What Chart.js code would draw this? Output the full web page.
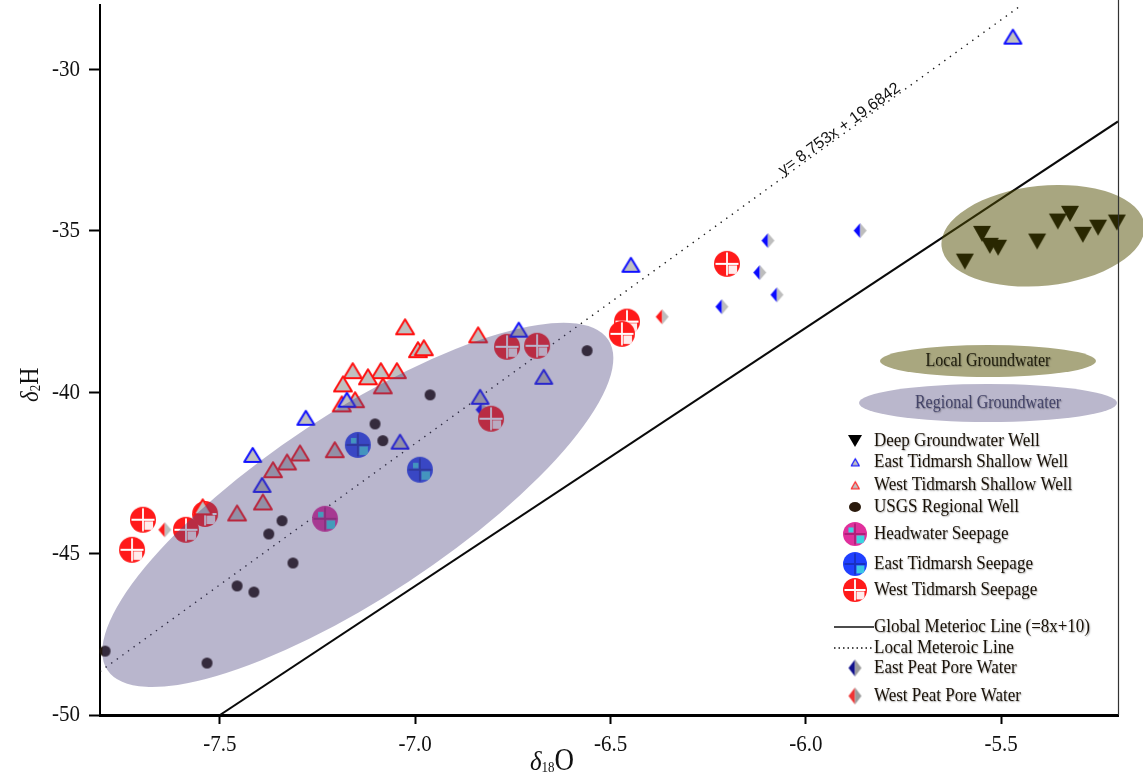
<!DOCTYPE html>
<html>
<head>
<meta charset="utf-8">
<script src="https://cdn.jsdelivr.net/npm/chart.js@4.4.1/dist/chart.umd.min.js"></script>
<style>
  html, body { margin: 0; padding: 0; background: #fff; }
  #wrap { width: 1143px; height: 778px; }
</style>
</head>
<body>
<div id="wrap"><canvas id="c" width="1143" height="778"></canvas></div>
<script>
// ---- isotope data: δ18O (x) and δ2H (y), per mil ----
const deepWellX = [-5.593, -5.549, -5.529, -5.508, -5.408, -5.355, -5.324, -5.291, -5.252, -5.204];
const deepWellY = [-35.95, -35.09, -35.46, -35.52, -35.33, -34.71, -34.47, -35.12, -34.90, -34.74];

const eastShallowX = [-5.470, -6.448, -6.735, -6.671, -6.834, -7.039, -7.280, -7.416, -7.392, -7.175];
const eastShallowY = [-28.98, -36.05, -38.06, -39.52, -40.14, -41.53, -40.79, -41.94, -42.87, -40.23];

const westShallowX = [-7.026, -6.839, -6.993, -6.978, -7.160, -7.088, -7.047, -7.121, -7.185, -7.083,
                      -7.154, -7.188, -7.206, -7.295, -7.328, -7.364, -7.390, -7.456, -7.544];
const westShallowY = [-37.97, -38.22, -38.68, -38.62, -39.33, -39.33, -39.33, -39.52, -39.74, -39.80,
                      -40.23, -40.36, -41.78, -41.88, -42.16, -42.40, -43.40, -43.74, -43.55];

const usgsX = [-6.560, -6.962, -7.103, -7.083, -7.341, -7.375, -7.313, -7.456, -7.413, -7.794, -7.533];
const usgsY = [-38.71, -40.08, -40.98, -41.50, -43.98, -44.39, -45.29, -46.00, -46.19, -48.02, -48.39];

const headwaterX = [-7.231];
const headwaterY = [-43.92];

const eastSeepX = [-7.147, -6.988];
const eastSeepY = [-41.63, -42.40];

const westSeepX = [-6.202, -6.458, -6.471, -6.765, -6.688, -6.806, -7.697, -7.725, -7.587, -7.538];
const westSeepY = [-36.02, -37.81, -38.19, -38.59, -38.56, -40.82, -43.95, -44.88, -44.26, -43.77];

const eastPeatX = [-6.097, -5.861, -6.118, -6.074, -6.215, -6.829];
const eastPeatY = [-35.30, -34.99, -36.29, -36.98, -37.35, -40.54];

const westPeatX = [-6.368, -7.641];
const westPeatY = [-37.66, -44.26];

// meteoric water lines: slope, intercept and the δ18O span they are drawn over
const globalLine = { slope: 8, intercept: 10 };
const globalLineSpan = [-7.5, -5.201];
const localLine = { slope: 8.753, intercept: 19.6842 };
const localLineSpan = [-7.807, -5.448];

const xTickValues = [-7.5, -7.0, -6.5, -6.0, -5.5];
const yTickValues = [-50, -45, -40, -35, -30];

const seriesNames = [
  'Deep Groundwater Well', 'East Tidmarsh Shallow Well', 'West Tidmarsh Shallow Well',
  'USGS Regional Well', 'Headwater Seepage', 'East Tidmarsh Seepage', 'West Tidmarsh Seepage',
  'Global Meterioc Line (=8x+10)', 'Local Meteroic Line', 'East Peat Pore Water', 'West Peat Pore Water'
];
const equationText = 'y= 8.753x + 19.6842';

// ---- drawing helpers ----
const SERIF = '"Liberation Serif", "Times New Roman", serif';
const SANS = '"Liberation Sans", Arial, sans-serif';

function makeCanvas(w, h, draw) {
  const c = document.createElement('canvas');
  c.width = w; c.height = h;
  draw(c.getContext('2d'), w, h);
  return c;
}

function triangleIcon(w, h, fill, stroke, lw, down) {
  const m = stroke ? lw + 1 : 1;
  return makeCanvas(w + 2 * m, h + 2 * m, (g, W, H) => {
    g.beginPath();
    if (down) { g.moveTo(m, m); g.lineTo(W - m, m); g.lineTo(W / 2, H - m); }
    else { g.moveTo(W / 2, m); g.lineTo(W - m, H - m); g.lineTo(m, H - m); }
    g.closePath();
    g.fillStyle = fill; g.fill();
    if (stroke) { g.lineJoin = 'round'; g.lineWidth = lw; g.strokeStyle = stroke; g.stroke(); }
  });
}

function dotIcon(r, color) {
  const s = Math.ceil(2 * r + 2);
  return makeCanvas(s, s, (g, W) => {
    g.beginPath(); g.arc(W / 2, W / 2, r, 0, Math.PI * 2); g.fillStyle = color; g.fill();
  });
}

function seepIcon(r, base, cross, quad, quadTL) {
  const s = 2 * r + 2;
  return makeCanvas(s, s, (g, W) => {
    const c = W / 2;
    g.save();
    g.beginPath(); g.arc(c, c, r, 0, Math.PI * 2); g.fillStyle = base; g.fill(); g.clip();
    g.fillStyle = quad;
    g.fillRect(c + 1.5, c + 1.5, r * 0.66, r * 0.66);
    if (quadTL) g.fillRect(c - 1.5 - r * 0.42, c - 1.5 - r * 0.42, r * 0.42, r * 0.42);
    g.restore();
    g.strokeStyle = cross; g.lineWidth = 1.8;
    g.beginPath();
    g.moveTo(c - r + 1.5, c); g.lineTo(c + r - 1.5, c);
    g.moveTo(c, c - r + 1.5); g.lineTo(c, c + r - 1.5);
    g.stroke();
  });
}

function diamondIcon(w, h, left, right) {
  return makeCanvas(w + 2, h + 2, (g, W, H) => {
    const cx = W / 2, cy = H / 2;
    g.beginPath(); g.moveTo(cx, 1); g.lineTo(cx, H - 1); g.lineTo(1, cy); g.closePath();
    g.fillStyle = left; g.fill();
    g.beginPath(); g.moveTo(cx, 1); g.lineTo(W - 1, cy); g.lineTo(cx, H - 1); g.closePath();
    g.fillStyle = right; g.fill();
  });
}

function lineIcon(dashed) {
  return makeCanvas(40, 6, (g, W, H) => {
    g.strokeStyle = '#111'; g.lineWidth = dashed ? 1.3 : 1.6;
    if (dashed) g.setLineDash([1.5, 3]);
    g.beginPath(); g.moveTo(0, H / 2); g.lineTo(W, H / 2); g.stroke();
  });
}

// plotted symbols
const icons = {
  deep: triangleIcon(18, 16, '#000', null, 0, true),
  eastShallow: triangleIcon(17, 14, '#c0c0c0', '#1010ff', 2, false),
  westShallow: triangleIcon(18, 15, '#c0c0c0', '#ff1010', 2, false),
  usgs: dotIcon(5.5, '#24180f'),
  headwater: seepIcon(13, '#e0309c', '#b01f7a', '#3cd4e0', true),
  eastSeep: seepIcon(13, '#2a46f0', '#1b2fb0', '#3cc6e6', true),
  westSeep: seepIcon(13, '#ff1a1a', '#ffffff', 'rgba(255,255,255,0.92)', false),
  eastPeat: diamondIcon(13, 15, '#0a0aff', '#bdbdbd'),
  westPeat: diamondIcon(13, 15, '#ff1a1a', '#bdbdbd')
};

// legend symbols
const legendIcons = [
  triangleIcon(14, 12, '#000', null, 0, true),
  triangleIcon(8, 7, '#c0c0c0', '#2020ff', 1.3, false),
  triangleIcon(8, 7, '#c0c0c0', '#ff3030', 1.3, false),
  makeCanvas(14, 12, (g) => { g.beginPath(); g.ellipse(7, 6, 6, 5, 0, 0, Math.PI * 2); g.fillStyle = '#2a1a0c'; g.fill(); }),
  seepIcon(12, '#e0309c', '#b01f7a', '#3cd4e0', true),
  seepIcon(12, '#2040ff', '#1830c0', '#3cc6e6', false),
  seepIcon(12, '#ff1a1a', '#ffffff', 'rgba(255,255,255,0.92)', false),
  lineIcon(false),
  lineIcon(true),
  diamondIcon(13, 17, '#10108c', '#9a9a9a'),
  diamondIcon(13, 17, '#f03434', '#9a9a9a')
];

// annotation layout (data-space centres, pixel radii)
const groundwaterZones = [
  { center: [-7.147, -43.49], rx: 300, ry: 92, angleDeg: -33.4, fill: 'rgba(80,72,130,0.40)' },
  { center: [-5.393, -35.15], rx: 102, ry: 50, angleDeg: -6, fill: 'rgba(81,77,1,0.50)' }
];
const legendLayout = {
  iconX: 855, lineX0: 834, textX: 874,
  rows: [441, 462, 485, 507, 534, 564, 590, 627, 648, 668, 696],
  zoneKeys: [
    { text: 'Local Groundwater', cx: 988, cy: 361, rx: 108, ry: 16, fill: '#a9a77f', color: '#1e1c0c' },
    { text: 'Regional Groundwater', cx: 988, cy: 403, rx: 129, ry: 19, fill: '#bab7cc', color: '#45456a' }
  ]
};
const TEXT_STRETCH = 1.13;

function stretchedText(ctx, str, x, y, font, color, align, sy, shadow) {
  ctx.save();
  ctx.translate(x, y);
  ctx.scale(1, sy);
  ctx.font = font;
  ctx.fillStyle = color;
  ctx.textAlign = align;
  ctx.textBaseline = 'middle';
  if (shadow) {
    ctx.shadowColor = 'rgba(0,0,0,0.35)';
    ctx.shadowBlur = 1.5;
    ctx.shadowOffsetX = 0.8;
    ctx.shadowOffsetY = 0.8;
  }
  ctx.fillText(str, 0, 0);
  ctx.restore();
}

const pts = (xs, ys) => xs.map((v, i) => ({ x: v, y: ys[i] }));
const linePts = (ln, span) => span.map(v => ({ x: v, y: ln.slope * v + ln.intercept }));

const markerSet = (label, xs, ys, icon) => ({
  label, data: pts(xs, ys), pointStyle: icon, pointRadius: 9, showLine: false, clip: false
});

const datasets = [
  markerSet(seriesNames[0], deepWellX, deepWellY, icons.deep),
  markerSet(seriesNames[1], eastShallowX, eastShallowY, icons.eastShallow),
  markerSet(seriesNames[2], westShallowX, westShallowY, icons.westShallow),
  markerSet(seriesNames[3], usgsX, usgsY, icons.usgs),
  markerSet(seriesNames[4], headwaterX, headwaterY, icons.headwater),
  markerSet(seriesNames[5], eastSeepX, eastSeepY, icons.eastSeep),
  markerSet(seriesNames[6], westSeepX, westSeepY, icons.westSeep),
  { label: seriesNames[7], data: linePts(globalLine, globalLineSpan), showLine: true, pointRadius: 0,
    borderColor: '#0a0a0a', borderWidth: 2, fill: false },
  { label: seriesNames[8], data: linePts(localLine, localLineSpan), showLine: true, pointRadius: 0,
    borderColor: '#1a1a1a', borderWidth: 1.4, borderDash: [1.4, 5.5], fill: false },
  markerSet(seriesNames[9], eastPeatX, eastPeatY, icons.eastPeat),
  markerSet(seriesNames[10], westPeatX, westPeatY, icons.westPeat)
];

const decorations = {
  id: 'decorations',
  afterDatasetsDraw(chart) {
    const { ctx, scales: { x, y } } = chart;
    // translucent groundwater zones laid over the samples
    groundwaterZones.forEach(z => {
      ctx.save();
      ctx.beginPath();
      ctx.ellipse(x.getPixelForValue(z.center[0]), y.getPixelForValue(z.center[1]),
                  z.rx, z.ry, z.angleDeg * Math.PI / 180, 0, Math.PI * 2);
      ctx.fillStyle = z.fill;
      ctx.fill();
      ctx.restore();
    });
  },
  afterDraw(chart) {
    const { ctx, chartArea: a, scales: { x, y } } = chart;

    // right frame line
    ctx.save();
    ctx.strokeStyle = '#333'; ctx.lineWidth = 1.2;
    ctx.beginPath(); ctx.moveTo(a.right + 0.5, 0); ctx.lineTo(a.right + 0.5, a.bottom); ctx.stroke();
    ctx.restore();

    // tick labels
    x.ticks.forEach(t => stretchedText(ctx, t.value.toFixed(1), x.getPixelForValue(t.value), 745,
      '21px ' + SERIF, '#111', 'center', TEXT_STRETCH));
    y.ticks.forEach(t => stretchedText(ctx, String(t.value), 80, y.getPixelForValue(t.value),
      '21px ' + SERIF, '#111', 'right', TEXT_STRETCH));

    // axis titles: δ18O and δ2H with subscripts
    ctx.save();
    ctx.fillStyle = '#111'; ctx.textBaseline = 'alphabetic';
    ctx.translate(530, 770); ctx.scale(1, TEXT_STRETCH);
    ctx.font = 'italic 25px ' + SERIF; ctx.fillText('δ', 0, 0);
    let off = ctx.measureText('δ').width;
    ctx.font = '13px ' + SERIF; ctx.fillText('18', off, 2);
    off += ctx.measureText('18').width;
    ctx.font = '27px ' + SERIF; ctx.fillText('O', off, 0);
    ctx.restore();

    ctx.save();
    ctx.fillStyle = '#111'; ctx.textBaseline = 'alphabetic';
    ctx.translate(38, 402); ctx.rotate(-Math.PI / 2); ctx.scale(1, TEXT_STRETCH);
    ctx.font = 'italic 23px ' + SERIF; ctx.fillText('δ', 0, 0);
    off = ctx.measureText('δ').width;
    ctx.font = '13px ' + SERIF; ctx.fillText('2', off, 2);
    off += ctx.measureText('2').width;
    ctx.font = '24px ' + SERIF; ctx.fillText('H', off, 0);
    ctx.restore();

    // local meteoric line equation along the line
    const ex = -5.905;
    const lx1 = x.getPixelForValue(-6.2), ly1 = y.getPixelForValue(localLine.slope * -6.2 + localLine.intercept);
    const lx2 = x.getPixelForValue(-5.6), ly2 = y.getPixelForValue(localLine.slope * -5.6 + localLine.intercept);
    const ang = Math.atan2(ly2 - ly1, lx2 - lx1);
    ctx.save();
    ctx.translate(x.getPixelForValue(ex), y.getPixelForValue(localLine.slope * ex + localLine.intercept));
    ctx.rotate(ang);
    ctx.font = '16px ' + SANS; ctx.fillStyle = '#111';
    ctx.textAlign = 'center'; ctx.textBaseline = 'middle';
    ctx.fillText(equationText, 0, -6);
    ctx.restore();

    // zone keys
    legendLayout.zoneKeys.forEach(k => {
      ctx.save();
      ctx.beginPath(); ctx.ellipse(k.cx, k.cy, k.rx, k.ry, 0, 0, Math.PI * 2);
      ctx.fillStyle = k.fill; ctx.fill();
      ctx.restore();
      stretchedText(ctx, k.text, k.cx, k.cy, '16px ' + SERIF, k.color, 'center', TEXT_STRETCH, true);
    });

    // series legend
    chart.data.datasets.forEach((ds, i) => {
      const icon = legendIcons[i];
      const yy = legendLayout.rows[i];
      if (i === 7 || i === 8) {
        ctx.drawImage(icon, legendLayout.lineX0, yy - icon.height / 2);
      } else {
        ctx.drawImage(icon, legendLayout.iconX - icon.width / 2, yy - icon.height / 2);
      }
      stretchedText(ctx, ds.label, legendLayout.textX, yy, '17px ' + SERIF, '#1a1208', 'left', TEXT_STRETCH, true);
    });
  }
};

const fixedTicks = values => scale => { scale.ticks = values.map(v => ({ value: v })); };

new Chart(document.getElementById('c'), {
  type: 'scatter',
  data: { datasets },
  options: {
    responsive: false,
    devicePixelRatio: 1,
    animation: false,
    events: [],
    layout: { autoPadding: false, padding: { top: 5, right: 25, left: 0, bottom: 0 } },
    plugins: { legend: { display: false }, tooltip: { enabled: false } },
    scales: {
      x: {
        type: 'linear', min: -7.807, max: -5.201,
        afterBuildTicks: fixedTicks(xTickValues),
        afterFit: s => { s.height = 63; },
        ticks: { display: false },
        grid: { drawOnChartArea: false, drawTicks: true, tickLength: 9, tickColor: '#000', tickWidth: 2 },
        border: { display: true, color: '#000', width: 3 }
      },
      y: {
        type: 'linear', min: -50, max: -28,
        afterBuildTicks: fixedTicks(yTickValues),
        afterFit: s => { s.width = 100; },
        ticks: { display: false },
        grid: { drawOnChartArea: false, drawTicks: true, tickLength: 11, tickColor: '#000', tickWidth: 2 },
        border: { display: true, color: '#000', width: 2 }
      }
    }
  },
  plugins: [decorations]
});
</script>
</body>
</html>
